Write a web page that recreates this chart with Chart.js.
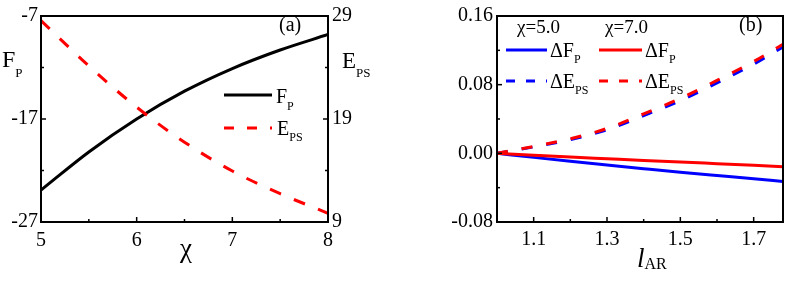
<!DOCTYPE html>
<html>
<head>
<meta charset="utf-8">
<script src="https://cdn.jsdelivr.net/npm/chart.js@4.4.0/dist/chart.umd.min.js"></script>
<style>
  html, body { margin: 0; padding: 0; background: #fff; }
  #wrap { position: relative; width: 789px; height: 281px; overflow: hidden; }
  #chartA { position: absolute; left: 0; top: 0; }
  #chartB { position: absolute; left: 400px; top: 0; }
</style>
</head>
<body>
<div id="wrap">
  <canvas id="chartA" width="400" height="281"></canvas>
  <canvas id="chartB" width="389" height="281"></canvas>
</div>
<script>
// panel (a)
var chi = [5, 5.5, 6, 6.5, 7, 7.5, 8];
var fP = [-23.9, -20.2, -17.0, -14.3, -12.1, -10.3, -8.8];
var ePS = [28.55, 24.15, 20.15, 16.75, 13.95, 11.75, 9.85];
var chiTicks = [5, 6, 7, 8];
var chiMinor = [5.5, 6.5, 7.5];
var fpTicks = [-27, -17, -7];
var fpMinor = [-22, -12];
var epsTicks = [9, 19, 29];
var epsMinor = [14, 24];

// panel (b)
var lAR = [1.0, 1.1, 1.2, 1.3, 1.4, 1.5, 1.6, 1.7, 1.78];
var dF5 = [0, -0.0047, -0.0093, -0.0137, -0.0179, -0.022, -0.0258, -0.0295, -0.0328];
var dF7 = [0, -0.0022, -0.0043, -0.0063, -0.0083, -0.0102, -0.012, -0.0138, -0.0155];
var dE5 = [0, 0.0075, 0.016, 0.0275, 0.044, 0.0615, 0.082, 0.104, 0.124];
var dE7 = [0, 0.008, 0.017, 0.029, 0.046, 0.064, 0.085, 0.107, 0.127];
var lTicks = [1.1, 1.3, 1.5, 1.7];
var lMinor = [1.2, 1.4, 1.6];
var dTicks = [-0.08, 0, 0.08, 0.16];
var dMinor = [-0.04, 0.04, 0.12];

var FONT = '"Liberation Serif", "Times New Roman", serif';
var tickFont = { family: FONT, size: 20 };

function pts(xs, ys) {
  return xs.map(function (x, i) { return { x: x, y: ys[i] }; });
}

function fixed(list) {
  return function (s) { s.ticks = list.map(function (v) { return { value: v }; }); };
}

function drawRich(ctx, x, y, parts) {
  parts.forEach(function (p) {
    ctx.font = (p.italic ? 'italic ' : '') + p.size + 'px ' + FONT;
    ctx.fillText(p.t, x, y + (p.dy || 0));
    x += ctx.measureText(p.t).width;
  });
}

// frame, inward ticks, texts and hand-made legend
function decor(tickSets, texts, keys) {
  return {
    id: 'decor',
    afterDatasetsDraw: function (chart) {
      var ctx = chart.ctx, a = chart.chartArea;
      ctx.save();
      ctx.strokeStyle = '#000';
      ctx.lineWidth = 2;
      ctx.setLineDash([]);
      ctx.strokeRect(a.left, a.top, a.right - a.left, a.bottom - a.top);
      ctx.lineWidth = 1.5;
      tickSets.forEach(function (t) {
        var s = chart.scales[t.scale];
        t.values.forEach(function (v) {
          var p = s.getPixelForValue(v);
          ctx.beginPath();
          if (t.side === 'bottom') { ctx.moveTo(p, a.bottom); ctx.lineTo(p, a.bottom - t.len); }
          else if (t.side === 'left') { ctx.moveTo(a.left, p); ctx.lineTo(a.left + t.len, p); }
          else { ctx.moveTo(a.right, p); ctx.lineTo(a.right - t.len, p); }
          ctx.stroke();
        });
      });
      keys.forEach(function (k) {
        ctx.strokeStyle = k.color;
        ctx.lineWidth = 3;
        ctx.setLineDash(k.dash || []);
        ctx.beginPath();
        ctx.moveTo(k.x1, k.y);
        ctx.lineTo(k.x2, k.y);
        ctx.stroke();
      });
      ctx.setLineDash([]);
      ctx.fillStyle = '#000';
      ctx.textBaseline = 'alphabetic';
      ctx.textAlign = 'left';
      texts.forEach(function (t) { drawRich(ctx, t.x, t.y, t.parts); });
      ctx.restore();
    }
  };
}

var noGrid = { display: false, drawTicks: false };

new Chart(document.getElementById('chartA').getContext('2d'), {
  type: 'line',
  data: {
    datasets: [
      { label: 'E_PS', data: pts(chi, ePS), yAxisID: 'y2', borderColor: '#ff0000', borderWidth: 3,
        borderDash: [12, 14], pointRadius: 0, cubicInterpolationMode: 'monotone', fill: false },
      { label: 'F_P', data: pts(chi, fP), yAxisID: 'y', borderColor: '#000000', borderWidth: 3,
        pointRadius: 0, cubicInterpolationMode: 'monotone', fill: false }
    ]
  },
  options: {
    responsive: false,
    animation: false,
    layout: { padding: { top: 12, left: 0, right: 0, bottom: 0 } },
    plugins: { legend: { display: false }, tooltip: { enabled: false } },
    scales: {
      x: {
        type: 'linear', min: 5, max: 8,
        afterBuildTicks: fixed(chiTicks),
        afterFit: function (s) { s.height = 59; },
        grid: noGrid, border: { display: false },
        ticks: { font: tickFont, color: '#000', padding: 7, maxRotation: 0,
          callback: function (v) { return String(v); } }
      },
      y: {
        position: 'left', min: -27, max: -7,
        afterBuildTicks: fixed(fpTicks),
        afterFit: function (s) { s.width = 41; },
        grid: noGrid, border: { display: false },
        ticks: { font: tickFont, color: '#000', padding: 3 }
      },
      y2: {
        position: 'right', min: 9, max: 29,
        afterBuildTicks: fixed(epsTicks),
        afterFit: function (s) { s.width = 72; },
        grid: noGrid, border: { display: false },
        ticks: { font: tickFont, color: '#000', padding: 4 }
      }
    }
  },
  plugins: [decor(
    [
      { scale: 'x', side: 'bottom', values: chiTicks, len: 5 },
      { scale: 'x', side: 'bottom', values: chiMinor, len: 3 },
      { scale: 'y', side: 'left', values: fpTicks, len: 5 },
      { scale: 'y', side: 'left', values: fpMinor, len: 3 },
      { scale: 'y2', side: 'right', values: epsTicks, len: 5 },
      { scale: 'y2', side: 'right', values: epsMinor, len: 3 }
    ],
    [
      { x: 2, y: 67, parts: [{ t: 'F', size: 24 }, { t: 'P', size: 13, dy: 10 }] },
      { x: 342, y: 68, parts: [{ t: 'E', size: 23 }, { t: 'PS', size: 13, dy: 9 }] },
      { x: 180, y: 257, parts: [{ t: 'χ', size: 27 }] },
      { x: 279, y: 31, parts: [{ t: '(a)', size: 20 }] },
      { x: 276, y: 103, parts: [{ t: 'F', size: 20 }, { t: 'P', size: 12, dy: 7 }] },
      { x: 277, y: 135, parts: [{ t: 'E', size: 20 }, { t: 'PS', size: 12, dy: 6 }] }
    ],
    [
      { x1: 224, x2: 272, y: 95, color: '#000000' },
      { x1: 224, x2: 272, y: 128, color: '#ff0000', dash: [10, 13] }
    ]
  )]
});

new Chart(document.getElementById('chartB').getContext('2d'), {
  type: 'line',
  data: {
    datasets: [
      { label: 'dE7', data: pts(lAR, dE7), borderColor: '#ff0000', borderWidth: 3,
        borderDash: [11, 14], pointRadius: 0, cubicInterpolationMode: 'monotone', fill: false },
      { label: 'dF7', data: pts(lAR, dF7), borderColor: '#ff0000', borderWidth: 3,
        pointRadius: 0, cubicInterpolationMode: 'monotone', fill: false },
      { label: 'dE5', data: pts(lAR, dE5), borderColor: '#0000ff', borderWidth: 3,
        borderDash: [11, 14], pointRadius: 0, cubicInterpolationMode: 'monotone', fill: false },
      { label: 'dF5', data: pts(lAR, dF5), borderColor: '#0000ff', borderWidth: 3,
        pointRadius: 0, cubicInterpolationMode: 'monotone', fill: false }
    ]
  },
  options: {
    responsive: false,
    animation: false,
    layout: { padding: { top: 12, left: 0, right: 6, bottom: 0 } },
    plugins: { legend: { display: false }, tooltip: { enabled: false } },
    scales: {
      x: {
        type: 'linear', min: 1.0, max: 1.78,
        afterBuildTicks: fixed(lTicks),
        afterFit: function (s) { s.height = 59; },
        grid: noGrid, border: { display: false },
        ticks: { font: tickFont, color: '#000', padding: 6, maxRotation: 0,
          callback: function (v) { return v.toFixed(1); } }
      },
      y: {
        position: 'left', min: -0.08, max: 0.16,
        afterBuildTicks: fixed(dTicks),
        afterFit: function (s) { s.width = 97; },
        grid: noGrid, border: { display: false },
        ticks: { font: tickFont, color: '#000', padding: 4,
          callback: function (v) { return v.toFixed(2); } }
      }
    }
  },
  plugins: [decor(
    [
      { scale: 'x', side: 'bottom', values: lTicks, len: 5 },
      { scale: 'x', side: 'bottom', values: lMinor, len: 3 },
      { scale: 'y', side: 'left', values: dTicks, len: 5 },
      { scale: 'y', side: 'left', values: dMinor, len: 3 }
    ],
    [
      { x: 117, y: 33, parts: [{ t: 'χ=5.0', size: 19 }] },
      { x: 205, y: 33, parts: [{ t: 'χ=7.0', size: 19 }] },
      { x: 150, y: 57, parts: [{ t: 'ΔF', size: 20 }, { t: 'P', size: 12, dy: 6 }] },
      { x: 245, y: 57, parts: [{ t: 'ΔF', size: 20 }, { t: 'P', size: 12, dy: 6 }] },
      { x: 150, y: 88, parts: [{ t: 'ΔE', size: 20 }, { t: 'PS', size: 12, dy: 6 }] },
      { x: 245, y: 88, parts: [{ t: 'ΔE', size: 20 }, { t: 'PS', size: 12, dy: 6 }] },
      { x: 339, y: 31, parts: [{ t: '(b)', size: 20 }] },
      { x: 237, y: 267, parts: [{ t: 'l', size: 27, italic: true }, { t: 'AR', size: 16, dy: 2 }] }
    ],
    [
      { x1: 106, x2: 147, y: 50, color: '#0000ff' },
      { x1: 199, x2: 242, y: 50, color: '#ff0000' },
      { x1: 106, x2: 147, y: 81, color: '#0000ff', dash: [9, 11] },
      { x1: 199, x2: 242, y: 81, color: '#ff0000', dash: [9, 11] }
    ]
  )]
});
</script>
</body>
</html>
